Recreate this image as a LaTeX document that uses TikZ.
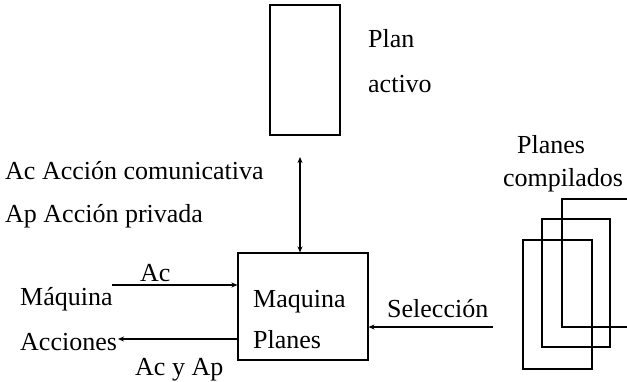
\documentclass[tikz,border=0pt]{standalone}
\usepackage{fontspec}
\setmainfont{Liberation Serif}
\usetikzlibrary{arrows.meta}
\begin{document}
\begin{tikzpicture}[x=1pt,y=-1pt,
  lbl/.style={anchor=base west,inner sep=0pt,font=\fontsize{26}{30}\selectfont},
  frame/.style={draw,line width=1.1pt,inner sep=0pt},
  tip/.style={line width=1.1pt,-{Stealth[length=6pt,width=5pt]}},
  twotip/.style={line width=1.1pt,{Stealth[length=6pt,width=5pt]}-{Stealth[length=6pt,width=5pt]}}]
\useasboundingbox (0,0) rectangle (627,381);
\clip (0,0) rectangle (627,381);

% active plan
\node[frame,minimum width=70pt,minimum height=130pt] (plan) at (305,70) {};
\node[lbl] (planT1) at (368,47) {Plan};
\node[lbl] (planT2) at (368,92) {activo};

% legend
\node[lbl] (leg1) at (5,179) {Ac Acción comunicativa};
\node[lbl] (leg2) at (5,222) {Ap Acción privada};

% plan machine
\node[frame,minimum width=130pt,minimum height=107pt] (mp) at (303,306.5) {};
\node[lbl] (mpT1) at (253,307) {Maquina};
\node[lbl] (mpT2) at (253,348) {Planes};

% action machine
\node[lbl] (ma1) at (20,305) {Máquina};
\node[lbl] (ma2) at (20,350) {Acciones};
\node[lbl] (acT) at (140,281) {Ac};
\node[lbl] (acapT) at (135,375) {Ac y Ap};

% compiled plans
\node[frame,minimum width=80pt,minimum height=128pt] (stackA) at (602,263) {};
\node[frame,minimum width=68pt,minimum height=128pt] (stackB) at (576,283) {};
\node[frame,minimum width=69pt,minimum height=129pt] (stackC) at (557.5,304.5) {};
\node[lbl] (cpT1) at (517,153) {Planes};
\node[lbl] (cpT2) at (503,186) {compilados};
\node[lbl] (selT) at (387,317) {Selección};

% connectors
\coordinate (vtop) at (300,157);
\coordinate (acIn) at (112,285);
\coordinate (acOut) at (118,339);
\coordinate (selIn) at (493,327);
\draw[twotip] (vtop) -- (vtop |- mp.north);
\draw[tip] (acIn) -- (acIn -| mp.west);
\draw[tip] (acOut -| mp.west) -- (acOut);
\draw[tip] (selIn) -- (selIn -| mp.east);
\end{tikzpicture}
\end{document}
